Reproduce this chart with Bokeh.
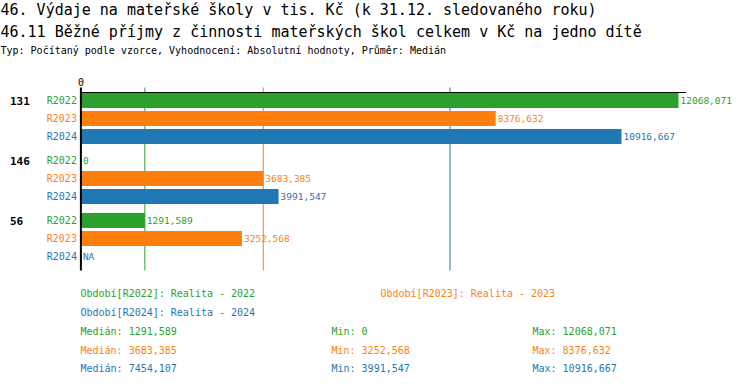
from bokeh.plotting import figure
from bokeh.models import Range1d, Label
from bokeh.core.properties import value
from bokeh.embed import file_html
from bokeh.resources import INLINE

# ---- data ----
groups = ["131", "146", "56"]
periods = ["R2022", "R2023", "R2024"]
period_names = ["Realita - 2022", "Realita - 2023", "Realita - 2024"]
vals_2022 = [12068.071, 0.0, 1291.589]
vals_2023 = [8376.632, 3683.385, 3252.568]
vals_2024 = [10916.667, 3991.547, None]
medians = [1291.589, 3683.385, 7454.107]
mins = [0.0, 3252.568, 3991.547]
maxs = [12068.071, 8376.632, 10916.667]
colors = ["#2ca02c", "#ff7f0e", "#1f77b4"]
title1 = "46. Výdaje na mateřské školy v tis. Kč (k 31.12. sledovaného roku)"
title2 = "46.11 Běžné příjmy z činnosti mateřských škol celkem v Kč na jedno dítě"
subtitle = "Typ: Počítaný podle vzorce, Vyhodnocení: Absolutní hodnoty, Průměr: Medián"

MONO = value("DejaVu Sans Mono")

def fmt(v):
    if v is None:
        return "NA"
    if float(v).is_integer():
        return str(int(v))
    return f"{v:.3f}".replace(".", ",")

W, H = 734, 376
px_per = 0.04952
x0_pic = 80.4
xr = Range1d(-x0_pic / px_per, (W - x0_pic) / px_per)
p = figure(width=W, height=H, output_backend="svg", toolbar_location=None,
           x_range=xr, y_range=Range1d(H, 0), min_border=0,
           x_axis_type=None, y_axis_type=None)
p.outline_line_color = None
p.xgrid.visible = False
p.ygrid.visible = False

top_row, row_step, group_step = 100, 18, 60
series = [vals_2022, vals_2023, vals_2024]
axis_top, axis_bottom = 87, 270
axis_end = 12220

# median lines
for k in range(3):
    p.segment(x0=[medians[k]], x1=[medians[k]], y0=[axis_top], y1=[axis_bottom],
              line_color=colors[k], line_width=1)

# bars
for k in range(3):
    ys, rights, ly, lx, lt = [], [], [], [], []
    for g in range(len(groups)):
        y = top_row + g * group_step + k * row_step
        v = series[k][g]
        if v is not None:
            ys.append(y)
            rights.append(v)
        ly.append(y)
        lx.append(v if v is not None else 0)
        lt.append(fmt(v))
    p.hbar(y=ys, left=0, right=rights, height=15, fill_color=colors[k], line_color=None)
    p.text(x=lx, y=ly, text=lt, x_offset=2, text_baseline="middle", text_align="left",
           text_font=MONO, text_font_size="9.5px", text_color=colors[k])
    p.text(x=[0] * len(groups), y=ly, text=[periods[k]] * len(groups), x_offset=-4,
           text_baseline="middle", text_align="right", text_font=MONO,
           text_font_size="10px", text_color=colors[k])

# axis lines
p.segment(x0=[0], x1=[0], y0=[axis_top], y1=[axis_bottom], line_color="black", line_width=2)
p.segment(x0=[0], x1=[axis_end], y0=[92], y1=[92], line_color="black", line_width=1)
p.text(x=[0], y=[81], text=["0"], text_align="center", text_baseline="middle",
       text_font=MONO, text_font_size="10px", text_color="black")

def lab(xpic, ypic, txt, size, color="black", style="normal"):
    p.add_layout(Label(x=xpic, y=H - ypic, x_units="screen", y_units="screen", text=txt,
                       text_baseline="middle", text_font="DejaVu Sans Mono",
                       text_font_size=size, text_color=color, text_font_style=style))

# group labels
for g, name in enumerate(groups):
    p.text(x=[0], y=[top_row + g * group_step], text=[name], x_offset=-71,
           text_baseline="middle", text_align="left", text_font=MONO,
           text_font_size="11px", text_font_style="bold", text_color="black")

# titles
lab(0, 9, title1, "15px")
lab(0, 31, title2, "15px")
lab(0, 50, subtitle, "10px")

# legend
leg_pos = [(80, 293), (380, 293), (80, 312)]
for k in range(3):
    lab(leg_pos[k][0], leg_pos[k][1], f"Období[{periods[k]}]: {period_names[k]}", "10px", colors[k])

stat_y = [331, 350, 368]
for k in range(3):
    lab(80, stat_y[k], f"Medián: {fmt(medians[k])}", "10px", colors[k])
    lab(331, stat_y[k], f"Min: {fmt(mins[k])}", "10px", colors[k])
    lab(532, stat_y[k], f"Max: {fmt(maxs[k])}", "10px", colors[k])

open("out.html", "w").write(file_html(p, INLINE))
